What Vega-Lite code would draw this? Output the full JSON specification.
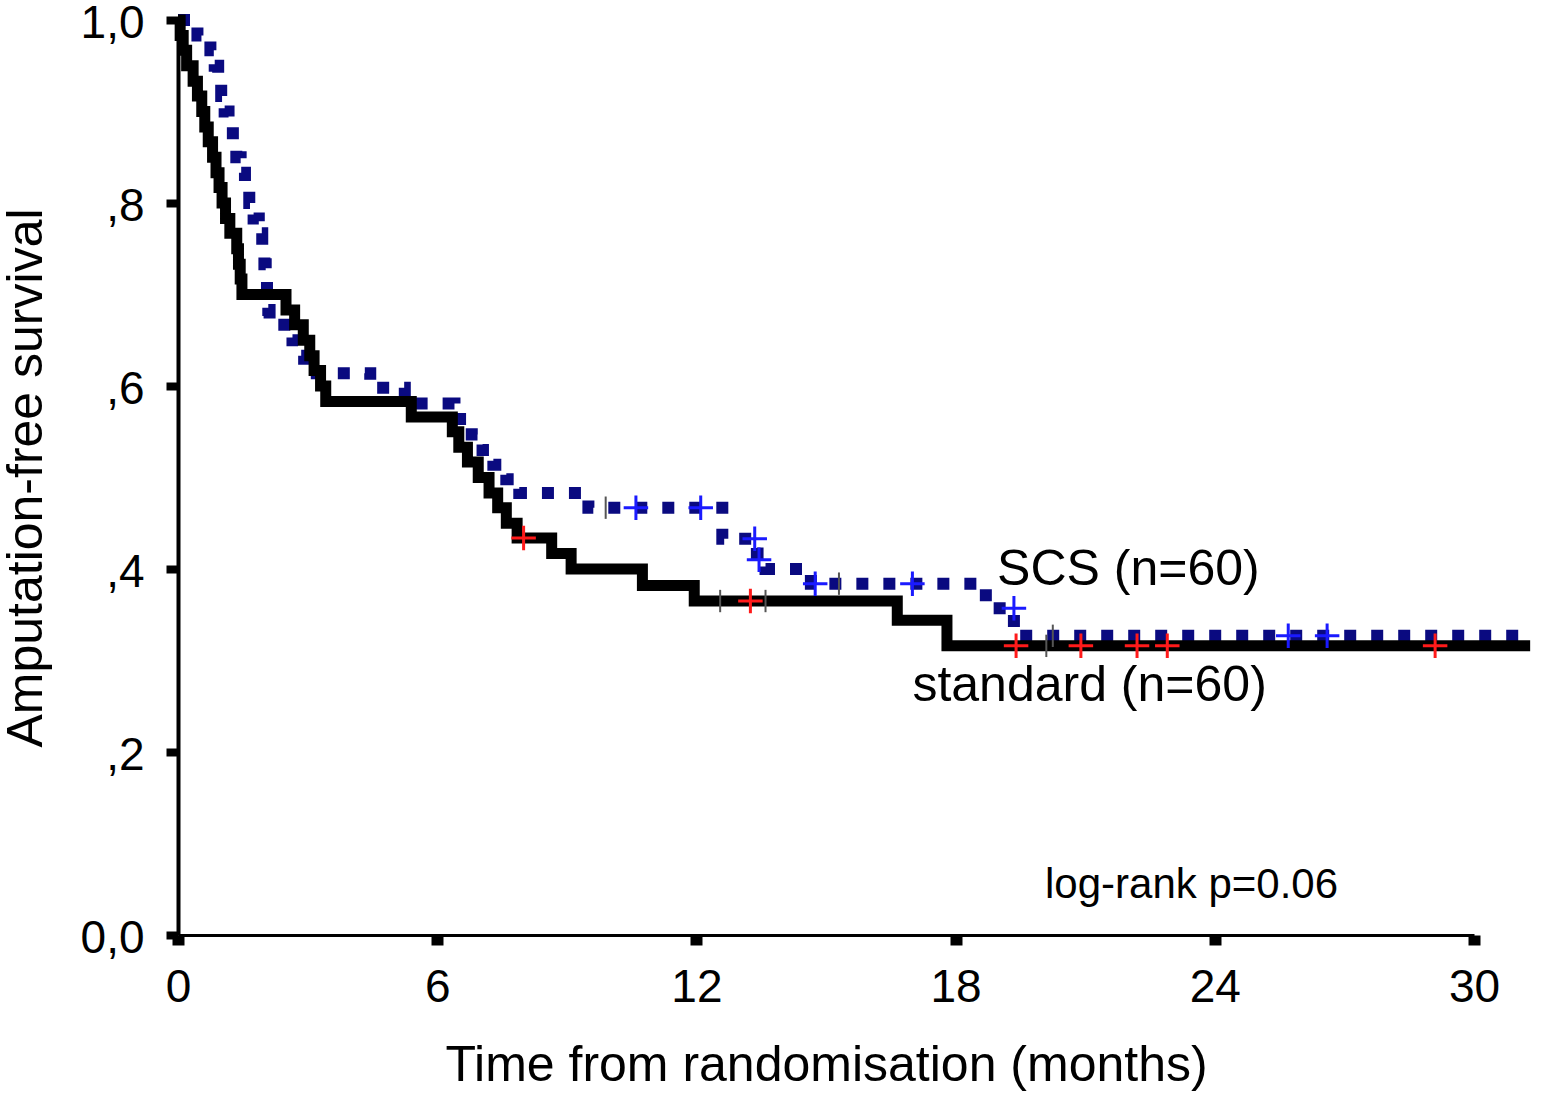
{
  "$schema": "https://vega.github.io/schema/vega-lite/v6.json",
  "width": 1296,
  "height": 915,
  "autosize": {"type": "none"},
  "padding": {"left": 178, "top": 20, "right": 71, "bottom": 165},
  "background": "white",
  "config": {"view": {"stroke": null}, "font": "Liberation Sans"},
  "datasets": {
    "scs": [
      {"t": 0, "s": 1.0}, {"t": 0.45, "s": 0.983}, {"t": 0.75, "s": 0.967}, {"t": 0.85, "s": 0.95},
      {"t": 0.93, "s": 0.933}, {"t": 1.0, "s": 0.917}, {"t": 1.08, "s": 0.9}, {"t": 1.17, "s": 0.883},
      {"t": 1.27, "s": 0.867}, {"t": 1.35, "s": 0.85}, {"t": 1.45, "s": 0.833}, {"t": 1.55, "s": 0.817},
      {"t": 1.65, "s": 0.8}, {"t": 1.75, "s": 0.783}, {"t": 1.87, "s": 0.767}, {"t": 1.95, "s": 0.75},
      {"t": 2.0, "s": 0.733}, {"t": 2.03, "s": 0.717}, {"t": 2.06, "s": 0.7}, {"t": 2.09, "s": 0.683},
      {"t": 2.12, "s": 0.667}, {"t": 2.65, "s": 0.65}, {"t": 2.78, "s": 0.633}, {"t": 2.92, "s": 0.614},
      {"t": 4.45, "s": 0.598}, {"t": 5.25, "s": 0.581}, {"t": 6.4, "s": 0.564}, {"t": 6.8, "s": 0.547},
      {"t": 7.05, "s": 0.53}, {"t": 7.3, "s": 0.514}, {"t": 7.6, "s": 0.498}, {"t": 7.9, "s": 0.483},
      {"t": 9.5, "s": 0.467}, {"t": 12.6, "s": 0.433}, {"t": 13.4, "s": 0.417}, {"t": 13.6, "s": 0.4},
      {"t": 14.65, "s": 0.384}, {"t": 18.7, "s": 0.357}, {"t": 19.35, "s": 0.327}, {"t": 31.3, "s": 0.327}
    ],
    "standard": [
      {"t": 0, "s": 1.0}, {"t": 0.05, "s": 0.983}, {"t": 0.12, "s": 0.967}, {"t": 0.2, "s": 0.95},
      {"t": 0.35, "s": 0.933}, {"t": 0.45, "s": 0.917}, {"t": 0.55, "s": 0.9}, {"t": 0.62, "s": 0.883},
      {"t": 0.7, "s": 0.867}, {"t": 0.8, "s": 0.85}, {"t": 0.88, "s": 0.833}, {"t": 0.95, "s": 0.817},
      {"t": 1.02, "s": 0.8}, {"t": 1.1, "s": 0.783}, {"t": 1.2, "s": 0.767}, {"t": 1.36, "s": 0.75},
      {"t": 1.4, "s": 0.733}, {"t": 1.44, "s": 0.717}, {"t": 1.48, "s": 0.7}, {"t": 2.5, "s": 0.683},
      {"t": 2.7, "s": 0.667}, {"t": 2.9, "s": 0.65}, {"t": 3.05, "s": 0.633}, {"t": 3.15, "s": 0.617},
      {"t": 3.3, "s": 0.6}, {"t": 3.42, "s": 0.583}, {"t": 5.4, "s": 0.566}, {"t": 6.35, "s": 0.55},
      {"t": 6.5, "s": 0.533}, {"t": 6.7, "s": 0.517}, {"t": 6.95, "s": 0.5}, {"t": 7.2, "s": 0.483},
      {"t": 7.4, "s": 0.467}, {"t": 7.6, "s": 0.45}, {"t": 7.85, "s": 0.434}, {"t": 8.65, "s": 0.417},
      {"t": 9.1, "s": 0.4}, {"t": 10.75, "s": 0.382}, {"t": 11.95, "s": 0.365}, {"t": 16.65, "s": 0.344},
      {"t": 17.8, "s": 0.316}, {"t": 31.3, "s": 0.316}
    ],
    "censored": [
      {"group": "SCS", "t": 10.6, "s": 0.467}, {"group": "SCS", "t": 12.1, "s": 0.467},
      {"group": "SCS", "t": 13.35, "s": 0.433}, {"group": "SCS", "t": 13.45, "s": 0.41},
      {"group": "SCS", "t": 14.75, "s": 0.384}, {"group": "SCS", "t": 17.0, "s": 0.384},
      {"group": "SCS", "t": 19.35, "s": 0.357}, {"group": "SCS", "t": 25.7, "s": 0.327},
      {"group": "SCS", "t": 26.6, "s": 0.327},
      {"group": "standard", "t": 8.0, "s": 0.434}, {"group": "standard", "t": 13.25, "s": 0.365},
      {"group": "standard", "t": 19.4, "s": 0.316}, {"group": "standard", "t": 20.9, "s": 0.316},
      {"group": "standard", "t": 22.2, "s": 0.316}, {"group": "standard", "t": 22.9, "s": 0.316},
      {"group": "standard", "t": 29.1, "s": 0.316}
    ],
    "ticks": [
      {"t": 9.9, "s": 0.467}, {"t": 15.3, "s": 0.384}, {"t": 12.55, "s": 0.365},
      {"t": 13.6, "s": 0.365}, {"t": 20.1, "s": 0.316}, {"t": 20.25, "s": 0.327}
    ],
    "labels": [
      {"t": 18.96, "s": 0.399, "label": "SCS (n=60)"},
      {"t": 17.0, "s": 0.272, "label": "standard (n=60)"}
    ],
    "note": [
      {"t": 20.07, "s": 0.055, "label": "log-rank p=0.06"}
    ]
  },
  "encoding": {
    "x": {
      "field": "t", "type": "quantitative",
      "scale": {"domain": [0, 30], "nice": false, "zero": false},
      "axis": {
        "values": [0, 6, 12, 18, 24, 30],
        "title": "Time from randomisation (months)",
        "grid": false, "domainColor": "black", "domainWidth": 3,
        "tickColor": "black", "tickWidth": 12, "tickSize": 10,
        "labelFont": "Liberation Sans", "labelFontSize": 46, "labelColor": "black",
        "labelPadding": 20, "labelFlush": false, "labelOverlap": false,
        "titleFont": "Liberation Sans", "titleFontSize": 50, "titleFontWeight": "normal",
        "titleColor": "black", "titlePadding": 30
      }
    },
    "y": {
      "field": "s", "type": "quantitative",
      "scale": {"domain": [0, 1], "nice": false},
      "axis": {
        "values": [0, 0.2, 0.4, 0.6, 0.8, 1],
        "labelExpr": "datum.value == 0 ? '0,0' : datum.value == 1 ? '1,0' : ',' + round(datum.value * 10)",
        "title": "Amputation-free survival",
        "grid": false, "domainColor": "black", "domainWidth": 4,
        "tickColor": "black", "tickWidth": 8, "tickSize": 12,
        "labelFont": "Liberation Sans", "labelFontSize": 46, "labelColor": "black",
        "labelPadding": 22, "labelOffset": 3, "labelFlush": false, "labelOverlap": false,
        "titleFont": "Liberation Sans", "titleFontSize": 50, "titleFontWeight": "normal",
        "titleColor": "black", "titlePadding": 29
      }
    }
  },
  "layer": [
    {
      "data": {"name": "scs"},
      "mark": {"type": "line", "interpolate": "step-after", "strokeWidth": 12, "color": "#0a0a80", "strokeDash": [12, 15], "strokeCap": "butt"}
    },
    {
      "data": {"name": "standard"},
      "mark": {"type": "line", "interpolate": "step-after", "strokeWidth": 11, "color": "black", "strokeCap": "butt", "strokeJoin": "miter"}
    },
    {
      "data": {"name": "ticks"},
      "mark": {"type": "point", "shape": "M0,-1V1", "filled": false, "strokeWidth": 2, "size": 500, "color": "#555555", "opacity": 1}
    },
    {
      "data": {"name": "censored"},
      "mark": {"type": "point", "shape": "M-1,0H1M0,-1V1", "filled": false, "strokeWidth": 3, "size": 600, "opacity": 1},
      "encoding": {
        "color": {"field": "group", "type": "nominal", "scale": {"domain": ["SCS", "standard"], "range": ["#1a1aff", "#ff1a1a"]}, "legend": null}
      }
    },
    {
      "data": {"name": "labels"},
      "mark": {"type": "text", "align": "left", "baseline": "middle", "fontSize": 50, "font": "Liberation Sans", "color": "black"},
      "encoding": {"text": {"field": "label"}}
    },
    {
      "data": {"name": "note"},
      "mark": {"type": "text", "align": "left", "baseline": "middle", "fontSize": 42, "font": "Liberation Sans", "color": "black"},
      "encoding": {"text": {"field": "label"}}
    }
  ]
}
